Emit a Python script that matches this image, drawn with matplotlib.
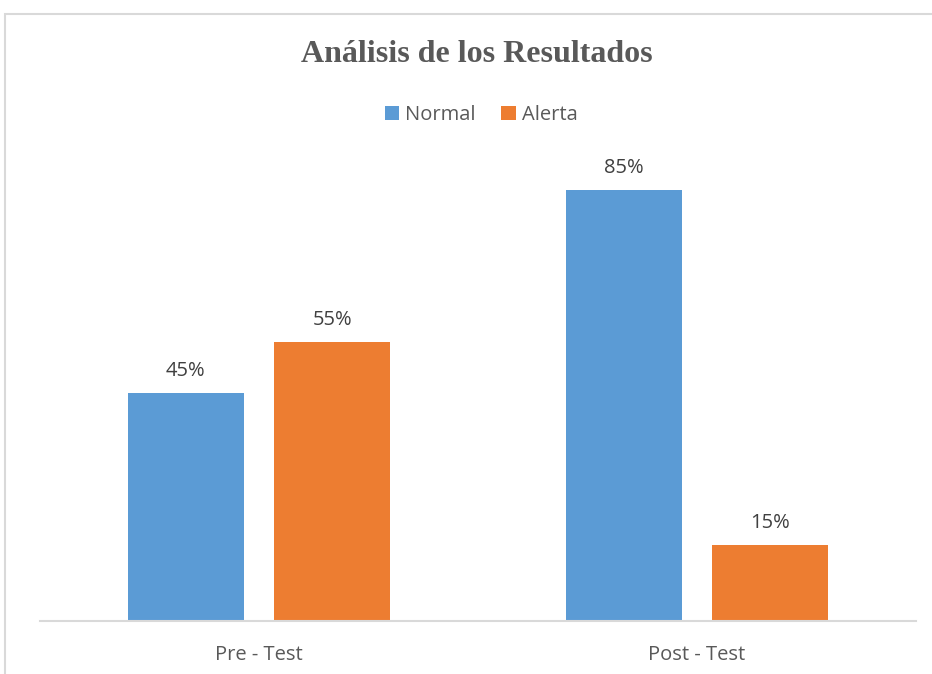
import numpy as np
import matplotlib.pyplot as plt
from matplotlib.patches import Rectangle

# data
categories = ['Pre - Test', 'Post - Test']
normal = [45, 85]
alerta = [55, 15]
series_names = ['Normal', 'Alerta']

W, H = 932, 674
fig = plt.figure(figsize=(W / 100, H / 100), dpi=100)

# chart border (light grey frame, open at right/bottom)
fig.patches.append(Rectangle((5 / W, -0.1), 1.2, (H - 14) / H + 0.1,
                             transform=fig.transFigure, fill=False,
                             edgecolor='#d9d9d9', linewidth=1.5))

ax = fig.add_axes([40 / W, (H - 621) / H, 876 / W, 507 / H])

x = np.arange(len(categories))
bw = 0.265
off = 0.167
b1 = ax.bar(x - off, normal, bw, color='#5B9BD5', label=series_names[0])
b2 = ax.bar(x + off, alerta, bw, color='#ED7D31', label=series_names[1])

font = 'Open Sans'
for bars, vals in [(b1, normal), (b2, alerta)]:
    for b, v in zip(bars, vals):
        ax.annotate(f'{v}%', (b.get_x() + b.get_width() / 2, v),
                    xytext=(0, 12), textcoords='offset points',
                    ha='center', va='baseline', fontsize=14.5,
                    family=font, color='#404040')

ax.set_xlim(-0.5, 1.5)
ax.set_ylim(0, 100)
ax.set_yticks([])
ax.set_xticks(x)
ax.set_xticklabels(categories, fontsize=14.5, family=font, color='#595959')
ax.tick_params(axis='x', length=0, pad=17)
for s in ['top', 'right', 'left']:
    ax.spines[s].set_visible(False)
ax.spines['bottom'].set_color('#d9d9d9')
ax.spines['bottom'].set_linewidth(1.5)

fig.text(477 / W, 1 - 54 / H, 'Análisis de los Resultados', ha='center', va='center',
         family='Liberation Serif', fontweight='bold', fontsize=23, color='#595959')

leg = fig.legend(handles=[b1, b2], loc='center', bbox_to_anchor=(481 / W, 1 - 115 / H),
                 ncol=2, frameon=False, handlelength=0.7, handleheight=0.7,
                 handletextpad=0.3, columnspacing=1.3,
                 prop={'family': font, 'size': 14.5})
for t in leg.get_texts():
    t.set_color('#595959')

fig.savefig('out.png', dpi=100)
